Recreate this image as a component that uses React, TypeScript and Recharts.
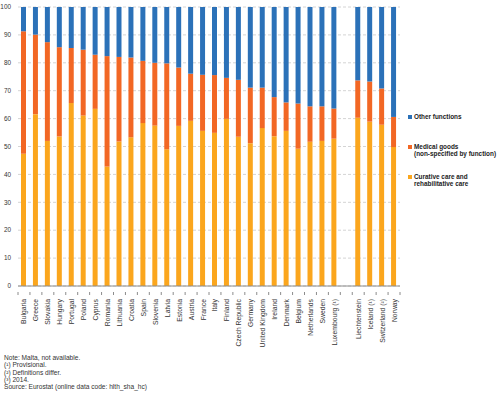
import React from 'react';
import { BarChart, Bar, XAxis, YAxis, CartesianGrid } from 'recharts';

const countries = [
    'Bulgaria', 'Greece', 'Slovakia', 'Hungary', 'Portugal', 'Poland', 'Cyprus', 'Romania',
    'Lithuania', 'Croatia', 'Spain', 'Slovenia', 'Latvia', 'Estonia', 'Austria', 'France',
    'Italy', 'Finland', 'Czech Republic', 'Germany', 'United Kingdom', 'Ireland', 'Denmark',
    'Belgium', 'Netherlands', 'Sweden', 'Luxembourg (\u00b9)', '',
    'Liechtenstein', 'Iceland (\u00b9)', 'Switzerland (\u00b2)', 'Norway'
];

// % of current healthcare expenditure
const curative = [
    47.4, 61.6, 52.0, 53.6, 65.6, 61.1, 63.5, 42.8, 51.8, 53.3, 58.4, 57.5, 49.0, 57.4, 59.2, 55.6,
    54.9, 59.9, 53.5, 51.2, 56.6, 53.7, 55.6, 49.2, 51.7, 52.0, 52.8, null,
    60.3, 58.9, 57.8, 49.8
];
const medical = [
    43.9, 28.5, 35.4, 32.0, 19.7, 23.6, 19.4, 39.6, 30.3, 28.6, 22.3, 22.5, 30.8, 20.9, 16.9, 20.1,
    20.7, 14.7, 20.4, 19.9, 14.5, 14.0, 10.2, 16.2, 12.7, 12.4, 10.8, null,
    13.4, 14.4, 13.0, 10.8
];
const other = [
    8.7, 9.9, 12.6, 14.4, 14.7, 15.3, 17.1, 17.6, 17.9, 18.1, 19.3, 20.0, 20.2, 21.7, 23.9, 24.3,
    24.4, 25.4, 26.1, 28.9, 28.9, 32.3, 34.2, 34.6, 35.6, 35.6, 36.4, null,
    26.3, 26.7, 29.2, 39.4
];

const yTicks = [0, 10, 20, 30, 40, 50, 60, 70, 80, 90, 100];

const notes = [
    'Note: Malta, not available.',
    '(\u00b9) Provisional.',
    '(\u00b2) Definitions differ.',
    '(\u00b3) 2014.',
    'Source: Eurostat (online data code: hlth_sha_hc)'
];

const COLORS = {
    other: '#2b71b8',
    medical: '#f26724',
    curative: '#fba61d'
};

const data = countries.map((name, i) => ({
    name,
    curative: curative[i],
    medical: medical[i],
    other: other[i]
}));

const FONT = '"Liberation Sans", Arial, sans-serif';
const SLOT = 382 / countries.length;

const CountryTick = (props: any) => {
    const { x, y, payload, index } = props;
    const i = index ?? payload.index;
    const isLast = i === countries.length - 1;
    return (
        <g>
            <line x1={x - SLOT / 2} x2={x - SLOT / 2} y1={y - 2} y2={y + 1} stroke="#8c8c8c" />
            {isLast && <line x1={x + SLOT / 2} x2={x + SLOT / 2} y1={y - 2} y2={y + 1} stroke="#8c8c8c" />}
            <text
                x={0}
                y={0}
                transform={`translate(${x + 2.5},${y + 5}) rotate(-90)`}
                textAnchor="end"
                fontSize={6.8}
                fill="#333"
                fontFamily={FONT}
            >
                {payload.value}
            </text>
        </g>
    );
};

const legendItems = [
    { key: 'other', top: 113, lines: ['Other functions'] },
    { key: 'medical', top: 143, lines: ['Medical goods', '(non-specified by function)'] },
    { key: 'curative', top: 173, lines: ['Curative care and', 'rehabilitative care'] }
];

export default function App() {
    return (
        <div style={{ position: 'absolute', left: 0, top: 0, width: 500, height: 393, background: '#fff', fontFamily: FONT }}>
            <BarChart
                width={500}
                height={393}
                data={data}
                margin={{ top: 7, right: 100, left: 0, bottom: 37 }}
                barSize={5}
            >
                <CartesianGrid vertical={false} stroke="#d4d4d4" strokeDasharray="3 2" />
                <XAxis
                    dataKey="name"
                    interval={0}
                    height={70}
                    axisLine={{ stroke: '#8c8c8c' }}
                    tickLine={false}
                    tick={<CountryTick />}
                />
                <YAxis
                    width={18}
                    domain={[0, 100]}
                    ticks={yTicks}
                    axisLine={false}
                    tickLine={false}
                    tick={{ fill: '#333', fontSize: 6.4, fontFamily: FONT }}
                    tickMargin={1}
                />
                <Bar dataKey="curative" stackId="a" fill={COLORS.curative} isAnimationActive={false} />
                <Bar dataKey="medical" stackId="a" fill={COLORS.medical} isAnimationActive={false} />
                <Bar dataKey="other" stackId="a" fill={COLORS.other} isAnimationActive={false} />
            </BarChart>

            {/* legend on the right */}
            {legendItems.map(item => (
                <div key={item.key} style={{ position: 'absolute', left: 408, top: item.top, fontSize: 6.4, lineHeight: '7.2px', color: '#222', fontWeight: 600, whiteSpace: 'nowrap' }}>
                    {item.lines.map((l, j) => (
                        <div key={j} style={{ position: 'relative', paddingLeft: 6 }}>
                            {j === 0 && (
                                <span style={{ position: 'absolute', left: 0, top: 2, width: 3.5, height: 3.5, background: (COLORS as any)[item.key] }} />
                            )}
                            {l}
                        </div>
                    ))}
                </div>
            ))}

            <div style={{ position: 'absolute', left: 4, top: 354, fontSize: 6.6, lineHeight: '7.3px', color: '#333' }}>
                {notes.map((n, i) => <div key={i}>{n}</div>)}
            </div>
        </div>
    );
}
